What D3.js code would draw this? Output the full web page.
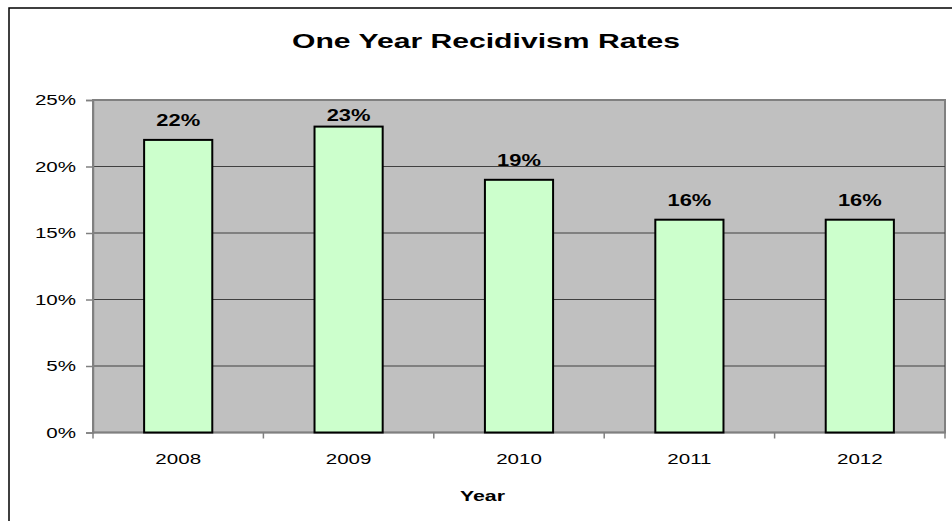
<!DOCTYPE html>
<html><head><meta charset="utf-8">
<script src="https://cdn.jsdelivr.net/npm/d3@7"></script>
<style>body{margin:0;background:#fff;}svg{display:block;font-family:"Liberation Sans",Arial,sans-serif;}</style>
</head><body>
<svg id="c" width="952" height="521"></svg>
<script>
const years = ["2008","2009","2010","2011","2012"];
const rates = [22, 23, 19, 16, 16];
const yTicks = [0, 5, 10, 15, 20, 25];
const title = "One Year Recidivism Rates";
const xTitle = "Year";

const svg = d3.select("#c");
const m = {l:93, r:945, t:100, b:432.5};
const SX = 1.37;

function stext(parent, x, y, str, size, weight, anchor, sx) {
  return parent.append("text")
    .attr("transform", `translate(${x},${y}) scale(${sx||SX},1)`)
    .attr("x",0).attr("y",0)
    .attr("text-anchor", anchor || "middle")
    .attr("font-size", size).attr("font-weight", weight || "normal")
    .attr("fill","#000").text(str);
}

// outer chart border (extends beyond window)
svg.append("rect").attr("x",9).attr("y",8).attr("width",1000).attr("height",600)
  .attr("fill","#fff").attr("stroke","#000").attr("stroke-width",1.5);

const x = d3.scaleBand().domain(years).range([m.l, m.r]).paddingInner(0.6).paddingOuter(0.3);
const y = d3.scaleLinear().domain([0,25]).range([m.b, m.t]);

svg.append("rect").attr("x",m.l).attr("y",m.t).attr("width",m.r-m.l).attr("height",m.b-m.t)
  .attr("fill","#c0c0c0").attr("stroke","#808080").attr("stroke-width",2);

svg.append("g").selectAll("line").data(yTicks.filter(d=>d>0 && d<25)).join("line")
  .attr("x1",m.l).attr("x2",m.r).attr("y1",d=>y(d)).attr("y2",d=>y(d))
  .attr("stroke","#404040").attr("stroke-width",1.2);

// y axis
const ya = svg.append("g").attr("transform",`translate(${m.l},0)`)
  .call(d3.axisLeft(y).tickValues(yTicks).tickFormat("").tickSize(7));
ya.select(".domain").attr("stroke","#808080").attr("stroke-width",1.5);
ya.selectAll(".tick line").attr("stroke","#808080").attr("stroke-width",1.5);
const yl = svg.append("g");
yTicks.forEach(t => stext(yl, 76, y(t)+5.3, t+"%", 15, "normal", "end"));

// x axis with ticks between categories
const xa = svg.append("g").attr("transform",`translate(0,${m.b})`);
const bw = (m.r-m.l)/years.length;
xa.append("line").attr("x1",m.l).attr("x2",m.r).attr("y1",0).attr("y2",0).attr("stroke","#808080").attr("stroke-width",1.5);
xa.selectAll("line.t").data(d3.range(years.length+1)).join("line").attr("class","t")
  .attr("x1",i=>m.l+i*bw).attr("x2",i=>m.l+i*bw).attr("y1",0).attr("y2",6)
  .attr("stroke","#808080").attr("stroke-width",1.5);
years.forEach(d => stext(xa, x(d)+x.bandwidth()/2, 31, d, 15));

// bars
svg.append("g").selectAll("rect").data(years).join("rect")
  .attr("x",d=>x(d)).attr("width",x.bandwidth())
  .attr("y",(d,i)=>y(rates[i])).attr("height",(d,i)=>m.b-y(rates[i]))
  .attr("fill","#ccffcc").attr("stroke","#000").attr("stroke-width",2);

const lg = svg.append("g");
years.forEach((d,i) => stext(lg, x(d)+x.bandwidth()/2, Math.max(y(rates[i])-14, m.t+21), rates[i]+"%", 16, "bold"));

stext(svg, 486, 48, title, 20.5, "bold", "middle", 1.47);
stext(svg, 482.5, 501, xTitle, 15, "bold", "middle", 1.42);
</script>
</body></html>
